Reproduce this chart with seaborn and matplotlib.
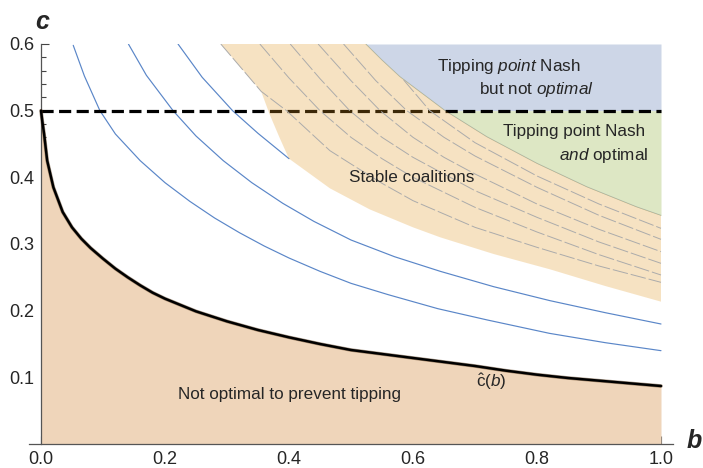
import numpy as np
import matplotlib
matplotlib.use("Agg")
import matplotlib.pyplot as plt
import seaborn as sns

# ---------------- data ----------------
# c-hat(b) boundary: below it, not optimal to prevent tipping
chat_b = [0.0, 0.002, 0.005, 0.01, 0.02, 0.035, 0.05, 0.065, 0.08, 0.1, 0.12, 0.14, 0.16, 0.18,
          0.2, 0.25, 0.3, 0.35, 0.4, 0.45, 0.5, 0.55, 0.6, 0.65, 0.7, 0.75, 0.8, 0.85, 0.9, 0.95, 1.0]
chat_c = [0.5, 0.485, 0.465, 0.425, 0.385, 0.348, 0.325, 0.308, 0.294, 0.278, 0.263, 0.250, 0.238, 0.227,
          0.218, 0.199, 0.184, 0.171, 0.160, 0.150, 0.141, 0.135, 0.129, 0.123, 0.117, 0.110, 0.104,
          0.099, 0.095, 0.091, 0.087]

# blue contour lines
blue1_b = [0.052, 0.07, 0.095, 0.12, 0.16, 0.20, 0.24, 0.28, 0.32, 0.36, 0.40, 0.45, 0.50, 0.56,
           0.64, 0.72, 0.82, 0.91, 1.0]
blue1_c = [0.598, 0.552, 0.5, 0.465, 0.425, 0.392, 0.364, 0.339, 0.317, 0.297, 0.279, 0.259, 0.241,
           0.224, 0.203, 0.186, 0.166, 0.152, 0.140]
blue2_b = [0.141, 0.17, 0.213, 0.25, 0.294, 0.34, 0.39, 0.44, 0.50, 0.57, 0.644, 0.73, 0.821, 0.91, 1.0]
blue2_c = [0.6, 0.553, 0.5, 0.462, 0.425, 0.392, 0.361, 0.334, 0.306, 0.281, 0.259, 0.236, 0.215, 0.197, 0.18]
blue3_b = [0.221, 0.26, 0.309, 0.35, 0.40]
blue3_c = [0.6, 0.55, 0.5, 0.466, 0.428]

# stable coalitions region edges
stable_left_b = [0.29, 0.355, 0.361, 0.369, 0.385, 0.40]
stable_left_c = [0.6, 0.529, 0.514, 0.494, 0.459, 0.428]
stable_low_b = [0.40, 0.466, 0.53, 0.6, 0.644, 0.73, 0.821, 0.91, 1.0]
stable_low_c = [0.428, 0.3835, 0.352, 0.325, 0.31, 0.285, 0.262, 0.237, 0.2135]

# tipping-point-Nash boundary
nash_b = [0.524, 0.55, 0.579, 0.622, 0.652, 0.719, 0.8, 0.88, 0.96, 1.0]
nash_c = [0.6, 0.576, 0.551, 0.521, 0.5, 0.461, 0.421, 0.386, 0.356, 0.343]

# gray dashed contours inside stable region
gray_b = [
    [0.29, 0.355, 0.396, 0.466, 0.5, 0.55, 0.6, 0.7, 0.8, 0.9, 1.0],
    [0.353, 0.40, 0.45, 0.5, 0.55, 0.6, 0.7, 0.8, 0.9, 1.0],
    [0.402, 0.45, 0.498, 0.55, 0.6, 0.7, 0.8, 0.9, 1.0],
    [0.447, 0.5, 0.547, 0.6, 0.65, 0.7, 0.8, 0.9, 1.0],
    [0.488, 0.54, 0.59, 0.65, 0.7, 0.8, 0.9, 1.0],
    [0.585, 0.627, 0.7, 0.8, 0.9, 1.0],
]
gray_c = [
    [0.6, 0.529, 0.5, 0.44, 0.42, 0.391, 0.365, 0.325, 0.295, 0.267, 0.2425],
    [0.6, 0.549, 0.5, 0.46, 0.428, 0.40, 0.355, 0.318, 0.284, 0.2535],
    [0.6, 0.548, 0.5, 0.46, 0.43, 0.38, 0.34, 0.303, 0.271],
    [0.6, 0.545, 0.5, 0.46, 0.43, 0.405, 0.36, 0.322, 0.2885],
    [0.6, 0.545, 0.5, 0.46, 0.432, 0.385, 0.343, 0.307],
    [0.546, 0.5, 0.452, 0.402, 0.36, 0.3235],
]

nash_level = 0.5
x_ticks = [0.0, 0.2, 0.4, 0.6, 0.8, 1.0]
y_ticks = [0.1, 0.2, 0.3, 0.4, 0.5, 0.6]

# ---------------- style ----------------
sns.set_style("ticks")
plt.rcParams["font.family"] = ["Liberation Sans", "DejaVu Sans"]
plt.rcParams["mathtext.fontset"] = "custom"
plt.rcParams["mathtext.rm"] = "Liberation Sans"
plt.rcParams["mathtext.it"] = "Liberation Sans:italic"
plt.rcParams["mathtext.bf"] = "Liberation Sans:bold"

W, H = 703, 468
fig = plt.figure(figsize=(W / 100, H / 100), dpi=100)
ax = fig.add_axes([28.6 / W, 24 / H, 644.8 / W, 400 / H])
ax.set_xlim(-0.02, 1.02)
ax.set_ylim(0, 0.6)

PEACH = "#EFD5BA"
BLUEFILL = "#CDD6E7"
GREENFILL = "#DDE7C4"
ORANGE = (0.88, 0.59, 0.12)
BLUELINE = "#5A86C8"

# not optimal region
ax.fill_between(chat_b, 0, chat_c, color=PEACH, lw=0, zorder=1)

# tipping point Nash regions
nb = np.array(nash_b)
nc = np.array(nash_c)
ax.fill_between(nb, np.maximum(nc, nash_level), 0.6, color=BLUEFILL, lw=0, zorder=1)
ax.fill_between(nb, np.minimum(nc, nash_level), nash_level, color=GREENFILL, lw=0, zorder=1)
sns.lineplot(x=nash_b, y=nash_c, sort=False, estimator=None, color="#A8B8B0", lw=0.6, ax=ax, zorder=1.5)

# blue contour lines
for bx, cy in [(blue1_b, blue1_c), (blue2_b, blue2_c), (blue3_b, blue3_c)]:
    sns.lineplot(x=bx, y=cy, sort=False, estimator=None, color=BLUELINE, lw=0.85, ax=ax, zorder=2)

# dashed horizontal at c = 0.5
ax.axhline(nash_level, xmin=0.02 / 1.04, xmax=1.02 / 1.04, color="black", lw=2.3,
           dashes=(3.8, 1.7), zorder=3)

# stable coalitions region (semi-transparent, over the dashed line)
poly_b = np.concatenate([stable_left_b, stable_low_b[1:], nash_b[::-1]])
poly_c = np.concatenate([stable_left_c, stable_low_c[1:], nash_c[::-1]])
ax.fill(poly_b, poly_c, color=ORANGE, alpha=0.27, lw=0, zorder=4)

for bx, cy in zip(gray_b, gray_c):
    sns.lineplot(x=bx, y=cy, sort=False, estimator=None, color="#ABABAB", lw=0.7,
                 linestyle=(0, (16, 3)), ax=ax, zorder=5)

# c-hat curve
sns.lineplot(x=chat_b, y=chat_c, sort=False, estimator=None, color="#5a3a1a", lw=2.6, ax=ax,
             zorder=6, alpha=0.5)
sns.lineplot(x=chat_b, y=chat_c, sort=False, estimator=None, color="black", lw=1.8, ax=ax, zorder=7)

# ---------------- axes ----------------
for s in ["top", "right"]:
    ax.spines[s].set_visible(False)
ax.spines["left"].set_position(("data", 0))
ax.spines["left"].set_bounds(0, 0.6)
for s in ["left", "bottom"]:
    ax.spines[s].set_color("#555555")
    ax.spines[s].set_linewidth(0.9)

ax.set_xticks(x_ticks)
ax.set_xticklabels([f"{v:.1f}" for v in x_ticks])
ax.set_xticks(np.arange(0.05, 1.0, 0.05), minor=True)
ax.set_yticks(y_ticks)
ax.set_yticklabels([f"{v:.1f}" for v in y_ticks])
ax.set_yticks(np.arange(0.02, 0.6, 0.02), minor=True)
ax.tick_params(which="major", direction="in", length=6, width=0.8, color="#444444",
               labelsize=13, pad=5)
ax.tick_params(which="minor", direction="in", length=3.5, width=0.8, color="#444444")
ax.grid(False)

# axis labels
fig.text(42 / W, 1 - 22 / H, "c", fontsize=18, fontstyle="italic", fontweight="bold",
         ha="center", va="center")
fig.text(694 / W, 1 - 441 / H, "b", fontsize=18, fontstyle="italic", fontweight="bold",
         ha="center", va="center")

# region labels
fs = 12.3
ax.text(0.638, 0.567, r"Tipping $\mathit{point}$ Nash", fontsize=fs, ha="left", va="center", zorder=10)
ax.text(0.707, 0.531, r"but not $\mathit{optimal}$", fontsize=fs, ha="left", va="center", zorder=10)
ax.text(0.745, 0.4685, "Tipping point Nash", fontsize=fs, ha="left", va="center", zorder=10)
ax.text(0.836, 0.432, r"$\mathit{and}$ optimal", fontsize=fs, ha="left", va="center", zorder=10)
ax.text(0.598, 0.399, "Stable coalitions", fontsize=fs, ha="center", va="center", zorder=10)
ax.text(0.401, 0.0745, "Not optimal to prevent tipping", fontsize=fs, ha="center", va="center", zorder=10)
ax.text(0.726, 0.0935, r"$\hat{\mathrm{c}}(b)$", fontsize=fs, ha="center", va="center", zorder=10)

fig.savefig("out.png", dpi=100)
